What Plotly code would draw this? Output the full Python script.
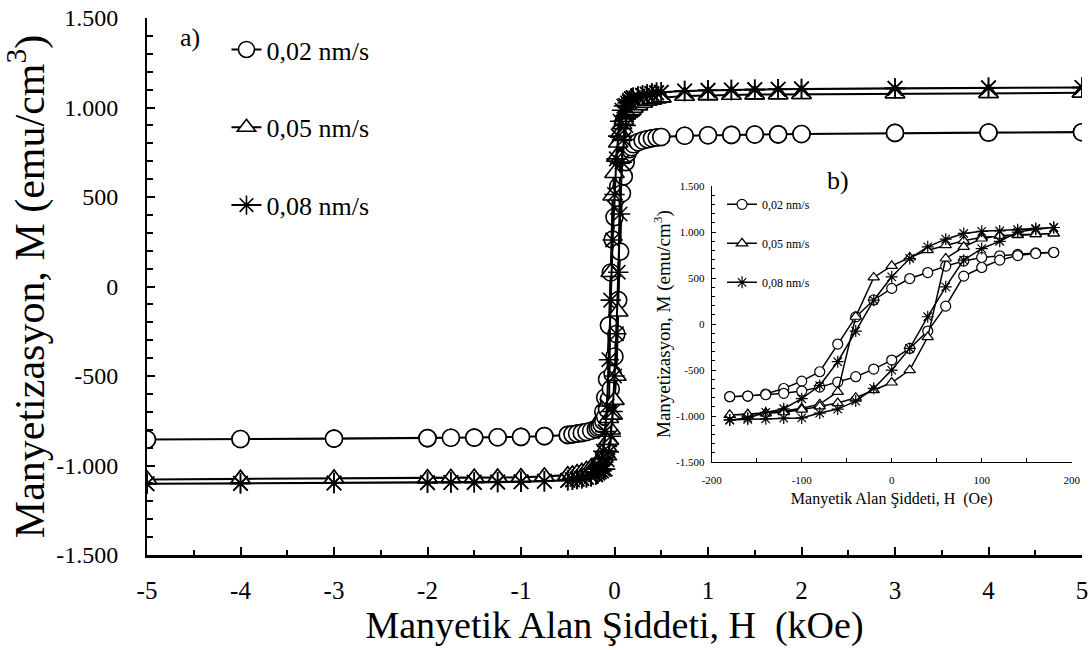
import plotly.graph_objects as go

# ---------------- data ----------------
series_names = ["0,02 nm/s", "0,05 nm/s", "0,08 nm/s"]

# main plot (kOe): outer points, descending branch
H_out_pos = [5, 4, 3, 2, 1.75, 1.5, 1.25, 1, 0.75, 0.5, 0.45, 0.4, 0.35, 0.3, 0.25, 0.2]
H_out_neg = [-0.2, -0.25, -0.3, -0.35, -0.4, -0.45, -0.5, -0.75, -1, -1.25, -1.5, -1.75, -2, -3, -4, -5]

M_out_pos_002 = [862, 860, 858, 852, 850, 849, 847, 845, 842, 835, 832, 828, 823, 816, 806, 795]
M_out_neg_002 = [-797, -806, -813, -818, -822, -826, -829, -836, -840, -842, -844, -845, -847, -850, -852, -855]

M_out_pos_005 = [1082, 1080, 1078, 1074, 1073, 1072, 1070, 1068, 1064, 1055, 1050, 1044, 1036, 1025, 1012, 997]
M_out_neg_005 = [-997, -1012, -1025, -1036, -1044, -1050, -1055, -1062, -1066, -1068, -1069, -1070, -1071, -1073, -1075, -1078]

M_out_pos_008 = [1112, 1110, 1107, 1104, 1102, 1100, 1098, 1096, 1092, 1085, 1082, 1078, 1074, 1068, 1062, 1055]
M_out_neg_008 = [-1052, -1060, -1066, -1072, -1076, -1080, -1083, -1088, -1091, -1093, -1094, -1095, -1096, -1098, -1100, -1102]

# inset (Oe): descending branch 180 -> -180, ascending branch -180 -> 180
H_in_desc = [180, 160, 140, 120, 100, 80, 60, 40, 20, 0, -20, -40, -60, -80, -100, -120, -140, -160, -180]
H_in_asc = [-180, -160, -140, -120, -100, -80, -60, -40, -20, 0, 20, 40, 60, 80, 100, 120, 140, 160, 180]

M_desc_002 = [780, 774, 758, 742, 724, 685, 630, 560, 495, 388, 262, 78, -217, -518, -620, -700, -760, -782, -789]
M_asc_002 = [-789, -782, -768, -752, -728, -685, -630, -572, -489, -391, -265, -76, 195, 521, 615, 695, 745, 767, 778]

M_desc_005 = [985, 977, 968, 960, 945, 905, 858, 803, 724, 633, 507, 80, -736, -870, -915, -945, -965, -980, -988]
M_asc_005 = [-988, -982, -972, -958, -930, -895, -858, -800, -717, -635, -500, -141, 713, 840, 930, 960, 970, 977, 985]

M_desc_008 = [1050, 1040, 1025, 1012, 1008, 985, 923, 840, 713, 514, 260, -76, -409, -668, -811, -920, -960, -1020, -1042]
M_asc_008 = [-1042, -1035, -1030, -1022, -1020, -967, -924, -837, -698, -500, -264, 80, 405, 695, 821, 900, 1000, 1031, 1050]

y_tickvals = [-1500, -1000, -500, 0, 500, 1000, 1500]
y_ticktext = ["-1.500", "-1.000", "-500", "0", "500", "1.000", "1.500"]
x_main_tickvals = [-5, -4, -3, -2, -1, 0, 1, 2, 3, 4, 5]
x_main_ticktext = ["-5", "-4", "-3", "-2", "-1", "0", "1", "2", "3", "4", "5"]
x_in_tickvals = [-200, -100, 0, 100, 200]
x_in_ticktext = ["-200", "-100", "0", "100", "200"]

# ---------------- styling ----------------
FONT = "Liberation Serif"
symbols = ["circle", "triangle-up", "asterisk-open"]
fills = ["white", "white", "black"]   # open symbols take their stroke from marker.color

# the page body margin is removed by a post script, so the figure fills the window
W, H = 1091, 650
ML, MR, MT, MB = 147, 9, 18, 95

series = [
    (M_out_pos_002, M_out_neg_002, M_desc_002, M_asc_002),
    (M_out_pos_005, M_out_neg_005, M_desc_005, M_asc_005),
    (M_out_pos_008, M_out_neg_008, M_desc_008, M_asc_008),
]

fig = go.Figure()

for i, (name, (mp, mn, md, ma)) in enumerate(zip(series_names, series)):
    hd_k = [h / 1000 for h in H_in_desc]
    ha_k = [h / 1000 for h in H_in_asc]
    x = H_out_pos + hd_k + H_out_neg + H_out_neg[::-1] + ha_k + H_out_pos[::-1]
    y = mp + md + mn + mn[::-1] + ma + mp[::-1]
    fig.add_trace(go.Scatter(
        x=x, y=y, name=name, mode="lines+markers",
        line=dict(color="black", width=2),
        marker=dict(symbol=symbols[i], size=17, color=fills[i],
                    line=dict(color="black", width=1.6)),
        legendgroup="m%d" % i, legend="legend",
        xaxis="x", yaxis="y",
    ))

for i, (name, (mp, mn, md, ma)) in enumerate(zip(series_names, series)):
    fig.add_trace(go.Scatter(
        x=H_in_desc + H_in_asc, y=md + ma, name=name, mode="lines+markers",
        line=dict(color="black", width=1.5),
        marker=dict(symbol=symbols[i], size=10, color=fills[i],
                    line=dict(color="black", width=1.2)),
        legendgroup="i%d" % i, legend="legend2",
        xaxis="x2", yaxis="y2",
    ))

axis_common = dict(showgrid=False, zeroline=False, showline=True, linecolor="black",
                   ticks="inside", tickcolor="black", mirror=False, automargin=False,
                   ticklabeloverflow="allow")

fig.update_layout(
    width=W, height=H,
    margin=dict(l=ML, r=MR, t=MT, b=MB),
    paper_bgcolor="white", plot_bgcolor="rgba(0,0,0,0)",
    font=dict(family=FONT, color="black"),
    xaxis=dict(**axis_common, range=[-5, 5], linewidth=2.5, ticklen=8, tickwidth=2,
               tickvals=x_main_tickvals, ticktext=x_main_ticktext,
               minor=dict(ticks="inside", dtick=0.5, tick0=0, ticklen=5, tickwidth=2, tickcolor="black"),
               tickfont=dict(size=25, family=FONT), ticklabelstandoff=11,
               title=dict(text="Manyetik Alan Şiddeti, H  (kOe)", font=dict(size=38, family=FONT), standoff=5),
               domain=[0, 1]),
    yaxis=dict(**axis_common, range=[-1500, 1500], linewidth=2, ticklen=8, tickwidth=1.5,
               tickvals=y_tickvals, ticktext=y_ticktext,
               minor=dict(ticks="inside", dtick=100, tick0=0, ticklen=6, tickwidth=1.5, tickcolor="black"),
               tickfont=dict(size=24, family=FONT), ticklabelstandoff=22,
               title=dict(text="Manyetizasyon, M (emu/cm<sup>3</sup>)", font=dict(size=42, family=FONT), standoff=0),
               domain=[0, 1]),
    xaxis2=dict(**axis_common, range=[-200, 200], linewidth=1.2, ticklen=4, tickwidth=1,
                tickvals=x_in_tickvals, ticktext=x_in_ticktext,
                minor=dict(ticks="inside", dtick=50, tick0=0, ticklen=4, tickwidth=1, tickcolor="black"),
                tickfont=dict(size=11, family=FONT), ticklabelstandoff=8,
                title=dict(text="Manyetik Alan Şiddeti, H  (Oe)", font=dict(size=16, family=FONT), standoff=7),
                domain=[0.604, 0.989], anchor="y2"),
    yaxis2=dict(**axis_common, range=[-1500, 1500], linewidth=1.2, ticklen=4, tickwidth=1,
                tickvals=y_tickvals, ticktext=y_ticktext,
                minor=dict(ticks="inside", dtick=100, tick0=0, ticklen=3, tickwidth=1, tickcolor="black"),
                tickfont=dict(size=11, family=FONT), ticklabelstandoff=4,
                title=dict(text="Manyetizasyon, M (emu/cm<sup>3</sup>)", font=dict(size=19, family=FONT), standoff=0),
                domain=[0.173, 0.687], anchor="x2"),
    legend=dict(x=0.085, y=0.985, xanchor="left", yanchor="top",
                font=dict(size=26, family=FONT), bgcolor="rgba(0,0,0,0)",
                tracegroupgap=41, traceorder="grouped"),
    legend2=dict(x=0.615, y=0.68, xanchor="left", yanchor="top",
                 font=dict(size=12, family=FONT), bgcolor="rgba(0,0,0,0)",
                 tracegroupgap=20, traceorder="grouped"),
    annotations=[
        dict(text="a)", x=190, y=38, xref="paper", yref="paper", showarrow=False,
             xanchor="center", yanchor="middle", font=dict(size=26, family=FONT)),
        dict(text="b)", x=838, y=180, xref="paper", yref="paper", showarrow=False,
             xanchor="center", yanchor="middle", font=dict(size=26, family=FONT)),
    ],
    showlegend=True,
)

# convert page-pixel positions of the panel labels to paper coordinates
pw, ph = W - ML - MR, H - MT - MB
for ann in fig.layout.annotations:
    ann.x = (ann.x - ML) / pw
    ann.y = (H - MB - ann.y) / ph

fig.write_html("out.html",
               config={"displayModeBar": False},
               post_script="document.body.style.margin='0px'; document.body.style.overflow='hidden';")
